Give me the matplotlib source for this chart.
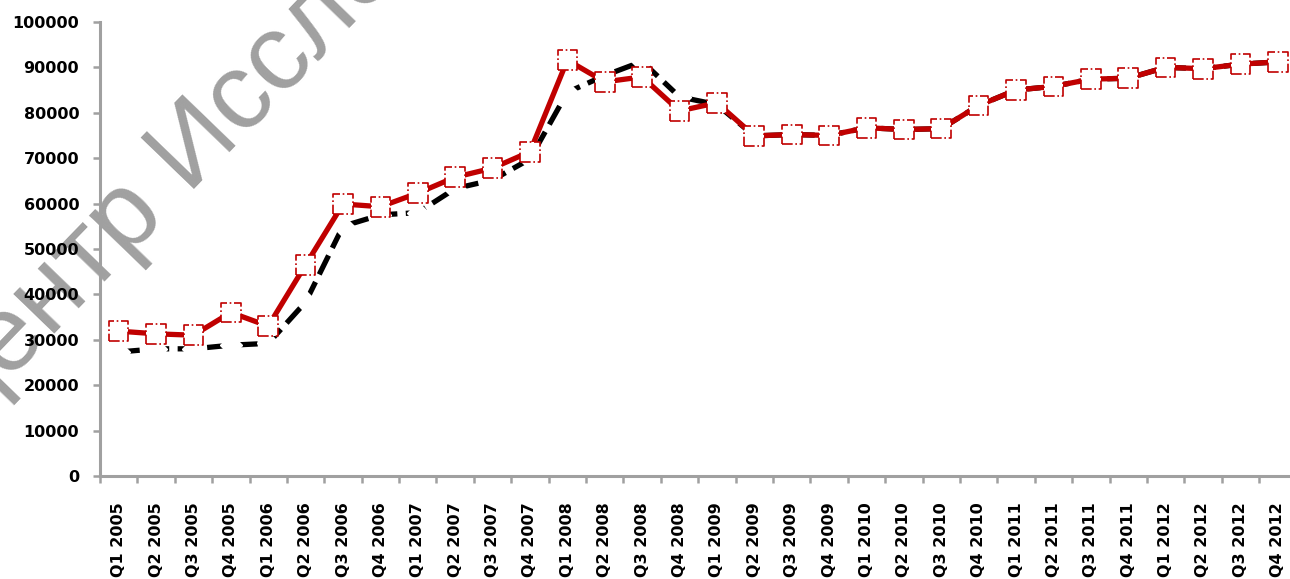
import numpy as np
import matplotlib
matplotlib.use('Agg')
import matplotlib.pyplot as plt

quarters = ['Q1 2005', 'Q2 2005', 'Q3 2005', 'Q4 2005',
            'Q1 2006', 'Q2 2006', 'Q3 2006', 'Q4 2006',
            'Q1 2007', 'Q2 2007', 'Q3 2007', 'Q4 2007',
            'Q1 2008', 'Q2 2008', 'Q3 2008', 'Q4 2008',
            'Q1 2009', 'Q2 2009', 'Q3 2009', 'Q4 2009',
            'Q1 2010', 'Q2 2010', 'Q3 2010', 'Q4 2010',
            'Q1 2011', 'Q2 2011', 'Q3 2011', 'Q4 2011',
            'Q1 2012', 'Q2 2012', 'Q3 2012', 'Q4 2012']

red_series = [31900, 31300, 31000, 36000, 33000, 46500, 59900, 59300,
              62300, 65800, 67800, 71400, 91600, 86800, 87900, 80400,
              82200, 74900, 75200, 75000, 76700, 76300, 76500, 81600,
              85000, 85800, 87400, 87600, 90000, 89700, 90700, 91200]

black_series = [27300, 28000, 28000, 28800, 29200, 38300, 55000, 57500,
                58000, 63300, 65200, 69800, 84500, 88200, 91300, 83500,
                81800, 74900, 75200, 75000, 76700, 76300, 76500, 81600,
                85000, 85800, 87400, 87600, 90000, 89700, 90700, 91200]

yticks = np.arange(0, 100001, 10000)

RED = '#C00000'
GREY = '#A0A0A0'

fig = plt.figure(figsize=(12.9, 5.79), dpi=100)
ax = fig.add_axes([0.0775, 0.178, 0.9275, 0.7841])
ax.patch.set_alpha(0)

x = np.arange(len(quarters))

# black dashed series with white diamonds that break the line
ax.plot(x, black_series, color='black', lw=3.8, dashes=(4, 1.6),
        marker='D', ms=11, mfc='white', mec='white', zorder=2)

# red series, square markers with dash-dot outline
ax.plot(x, red_series, color=RED, lw=3.8, zorder=3)
ax.scatter(x, red_series, marker='s', s=200, facecolor='white',
           edgecolor=RED, linewidths=1.2, linestyles='-.', zorder=4)

ax.set_xlim(-0.5, len(quarters) - 0.5)
ax.set_ylim(0, 100000)

ax.set_yticks(yticks)
ax.set_yticklabels([str(v) for v in yticks], fontsize=11.5, fontweight='bold')

# ticks sit between categories, labels under the points
ax.set_xticks(np.arange(len(quarters) + 1) - 0.5)
ax.set_xticklabels([])
ax.set_xticks(x, minor=True)
ax.set_xticklabels(quarters, minor=True, rotation=90, fontsize=11.5,
                   fontweight='bold', va='top', ha='center')
ax.tick_params(axis='x', which='minor', length=0, pad=19)
ax.tick_params(axis='both', which='major', length=5, width=1.8, color=GREY)
ax.tick_params(axis='y', which='major', pad=10)

for side in ['top', 'right']:
    ax.spines[side].set_visible(False)
for side in ['left', 'bottom']:
    ax.spines[side].set_color(GREY)
    ax.spines[side].set_linewidth(2.2)

fig.text(-0.037, 0.240, 'Центр Исследований', rotation=46,
         rotation_mode='anchor', ha='left', va='baseline',
         fontsize=78, family='Liberation Sans', color=GREY, zorder=-1)

fig.savefig('out.png', dpi=100)
